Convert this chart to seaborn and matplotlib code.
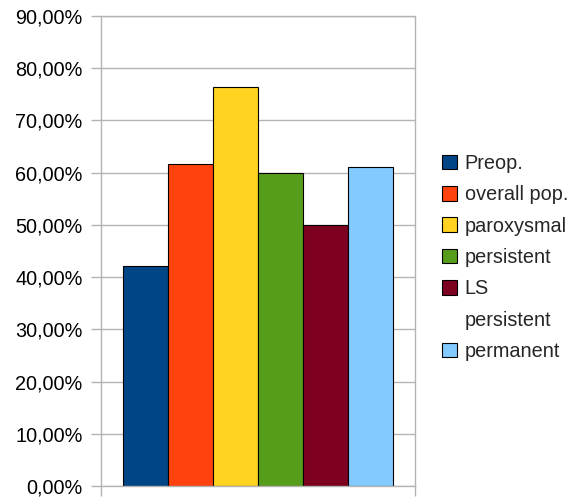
import matplotlib
matplotlib.use("Agg")
import matplotlib.pyplot as plt
import seaborn as sns
import pandas as pd
from matplotlib.patches import Patch
from matplotlib.ticker import FuncFormatter, MultipleLocator

# Success rate per group (percent)
groups = ["Preop.", "overall pop.", "paroxysmal", "persistent", "LS persistent", "permanent"]
rates = [42.1, 61.6, 76.5, 60.0, 50.0, 61.1]
colors = ["#004586", "#ff420e", "#ffd320", "#579d1c", "#7e0021", "#83caff"]

df = pd.DataFrame({"x": [""] * len(groups), "group": groups, "rate": rates})

sns.set_style("white")
plt.rcParams["font.family"] = ["Liberation Sans", "DejaVu Sans"]

fig = plt.figure(figsize=(5.78, 4.97), dpi=100)
ax = fig.add_axes([101 / 578, 11 / 497, 314 / 578, 470 / 497])

sns.barplot(data=df, x="x", y="rate", hue="group", hue_order=groups,
            palette=colors, saturation=1, width=0.86, dodge=True, ax=ax,
            edgecolor="black", linewidth=0.8, errorbar=None, legend=False)

grid_c = "#b3b3b3"
ax.set_xlim(-0.5, 0.5)
ax.set_ylim(0, 90)
ax.yaxis.set_major_locator(MultipleLocator(10))
ax.yaxis.set_major_formatter(FuncFormatter(lambda v, _: f"{v:.2f}%".replace(".", ",")))
ax.grid(axis="y", color=grid_c, linewidth=1)
ax.set_axisbelow(True)
ax.set_xlabel("")
ax.set_ylabel("")
ax.set_xticks([-0.5, 0.5])
ax.set_xticklabels([])
ax.tick_params(axis="x", direction="out", length=7.2, width=1, color=grid_c, bottom=True)
ax.tick_params(axis="y", direction="out", length=7.2, width=1, color=grid_c, left=True,
               labelsize=14.3, labelcolor="black", pad=6)
for side in ["left", "right", "bottom", "top"]:
    ax.spines[side].set_color(grid_c)
    ax.spines[side].set_linewidth(1)

# Legend: long group names wrap onto a second line under their swatch
handles, labels = [], []
for name, col in zip(groups, colors):
    words = name.split(" ")
    if name.startswith("LS"):
        handles.append(Patch(facecolor=col, edgecolor="black", linewidth=0.8))
        labels.append(words[0])
        handles.append(Patch(facecolor="none", edgecolor="none"))
        labels.append(" ".join(words[1:]))
    else:
        handles.append(Patch(facecolor=col, edgecolor="black", linewidth=0.8))
        labels.append(name)

leg = ax.legend(handles, labels, loc="upper left",
                bbox_to_anchor=(442 / 578, 1 - 154 / 497), bbox_transform=fig.transFigure,
                frameon=False, fontsize=14.3, handlelength=0.75, handleheight=0.75,
                handletextpad=0.4, labelspacing=0.62, borderpad=0, borderaxespad=0)

fig.savefig("out.png", dpi=100)
